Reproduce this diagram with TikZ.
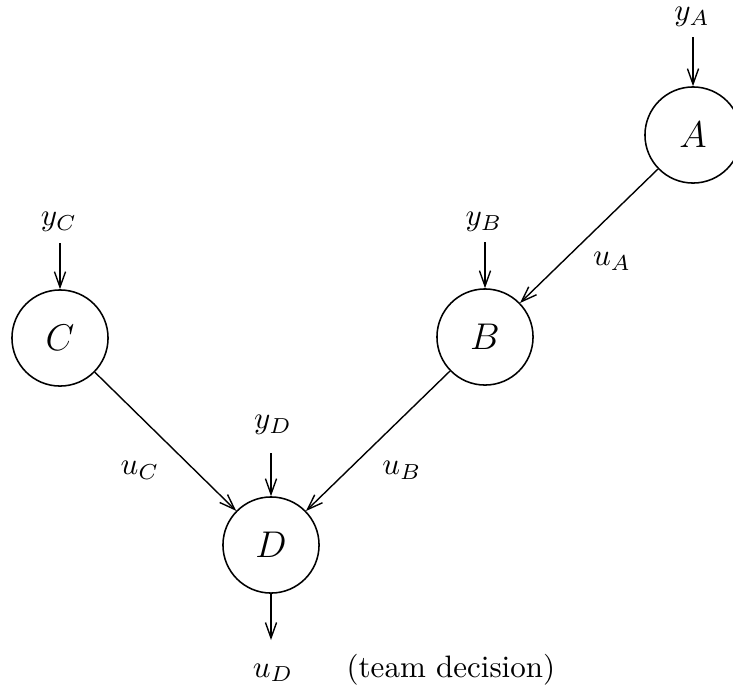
\documentclass[tikz,border=0pt]{standalone}
\usetikzlibrary{arrows.meta}
\begin{document}
\begin{tikzpicture}[x=0.3226pt,y=-0.3226pt,
  agent/.style={circle,draw,line width=0.5pt,minimum size=31pt,inner sep=0pt,font=\large},
  lbl/.style={inner sep=0pt},
  flow/.style={line width=0.45pt,-{Straight Barb[length=5pt,width=3.6pt]}}]
\useasboundingbox (0,0) rectangle (733,688);
% agents
\node[agent] (A) at (693,135) {$A$};
\node[agent] (B) at (485,337) {$B$};
\node[agent] (C) at (60,338) {$C$};
\node[agent] (D) at (271,545) {$D$};
% observation labels
\node[lbl] (yA) at (692,17) {$y_A$};
\node[lbl] (yB) at (484,222) {$y_B$};
\node[lbl] (yC) at (59,222) {$y_C$};
\node[lbl] (yD) at (273,425) {$y_D$};
\coordinate (yAs) at (693,37);
\coordinate (yBs) at (485,242);
\coordinate (yCs) at (60,243);
\coordinate (yDs) at (271,453);
\draw[flow] (yAs) -- (A);
\draw[flow] (yBs) -- (B);
\draw[flow] (yCs) -- (C);
\draw[flow] (yDs) -- (D);
% decision flows
\draw[flow] (A) -- (B);
\draw[flow] (B) -- (D);
\draw[flow] (C) -- (D);
\node[lbl] (uA) at (612,261) {$u_A$};
\node[lbl] (uB) at (402,470) {$u_B$};
\node[lbl] (uC) at (140,470) {$u_C$};
% output
\coordinate (uDe) at (271,640);
\draw[flow] (D) -- (uDe);
\node[lbl,anchor=base] (uD) at (273,677) {$u_D$};
\node[lbl,anchor=base west] (team) at (346,677) {(team decision)};
\end{tikzpicture}
\end{document}
